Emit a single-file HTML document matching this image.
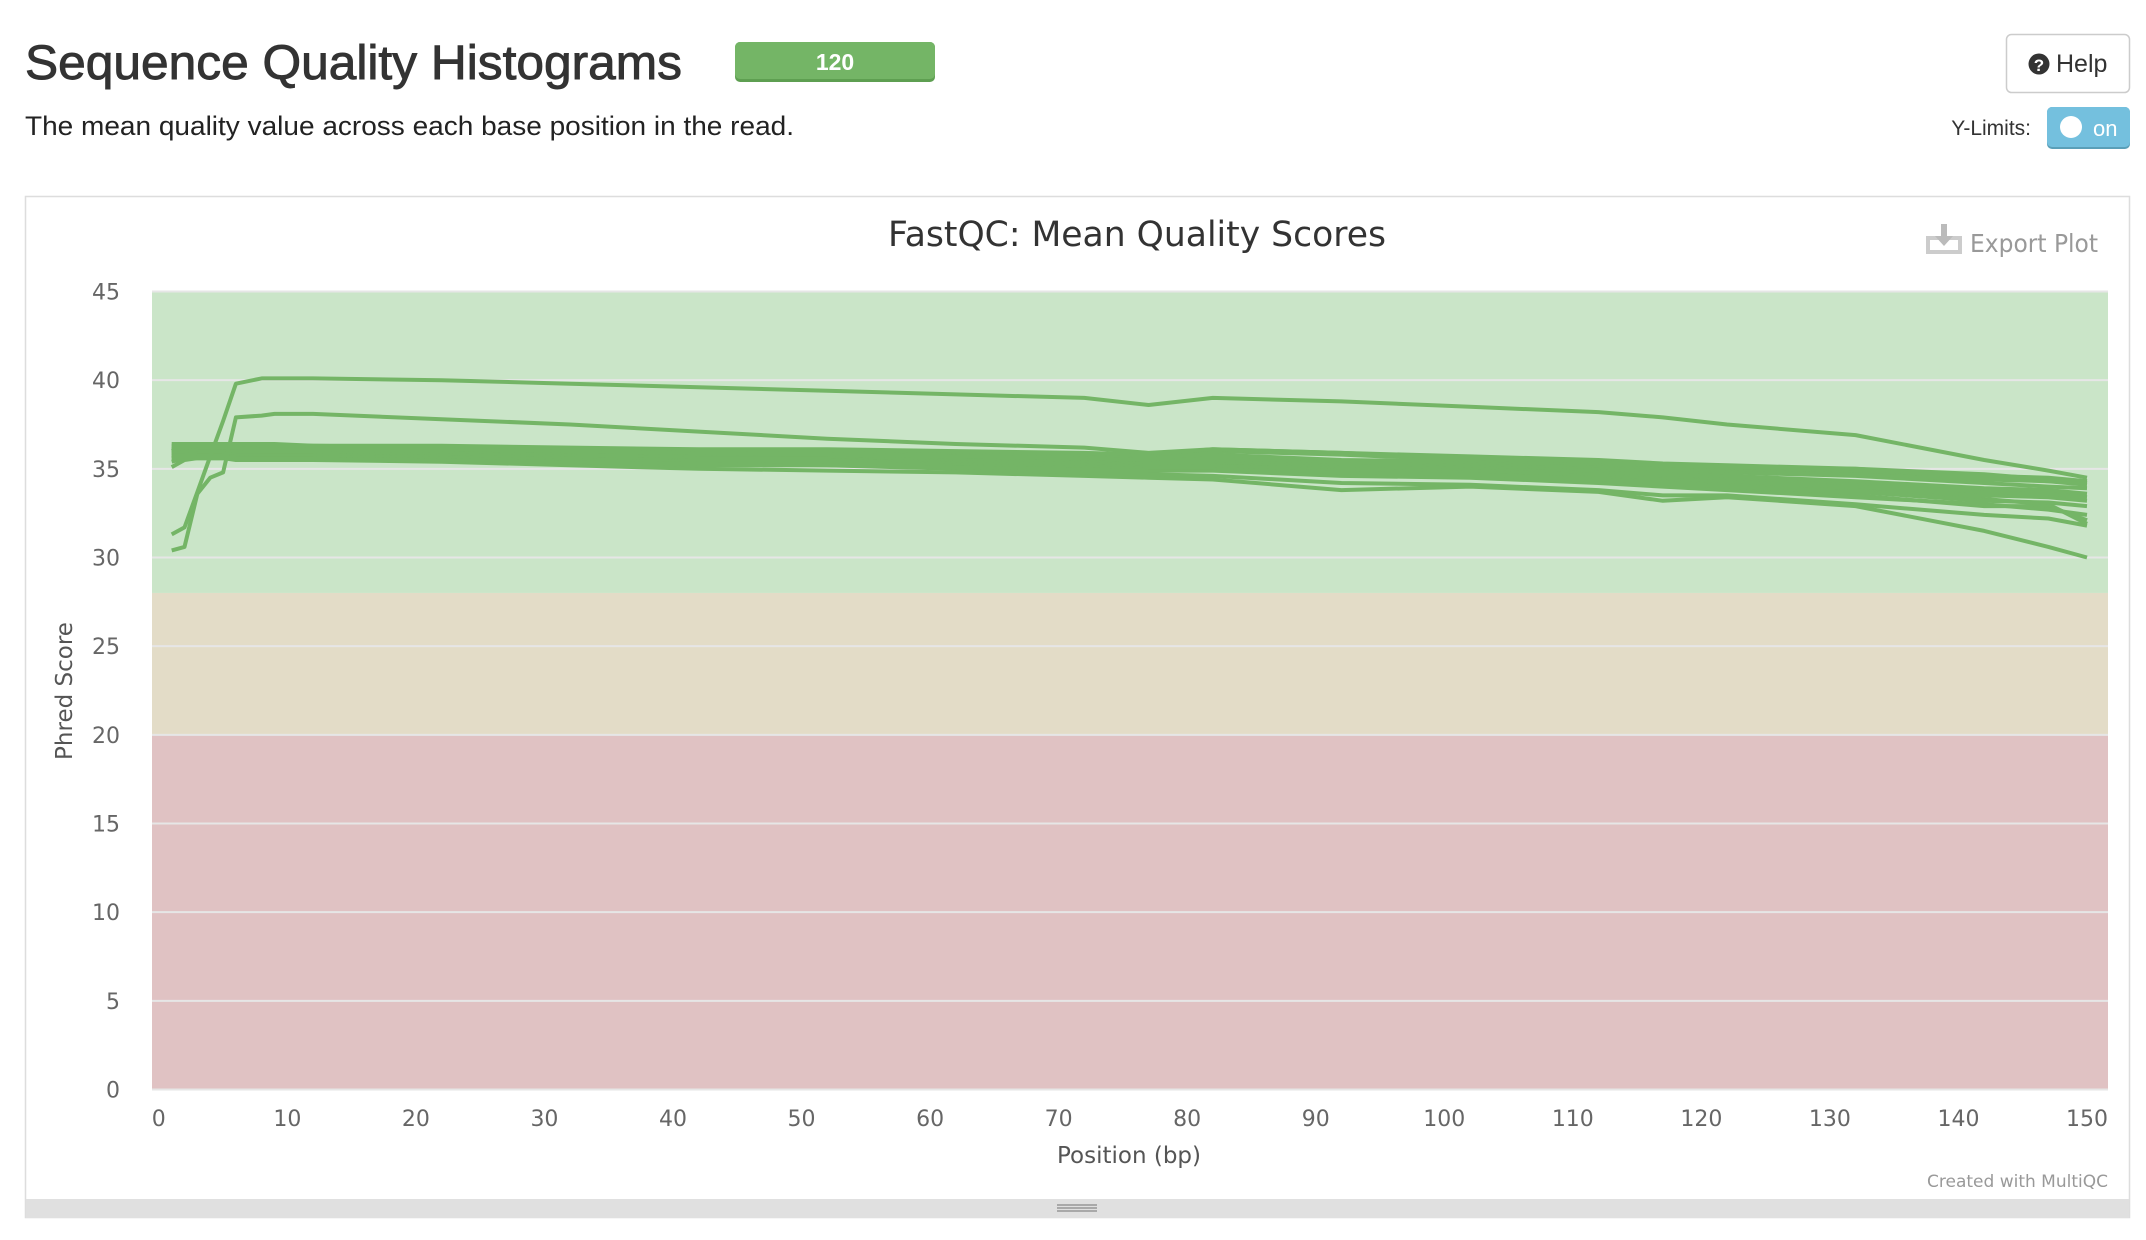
<!DOCTYPE html>
<html><head><meta charset="utf-8"><style>
html,body{margin:0;padding:0;background:#fff;}
svg{display:block;}
</style></head><body>
<svg id="page" width="2146" height="1240" viewBox="0 0 2146 1240" xmlns="http://www.w3.org/2000/svg">
  <text x="25" y="79" font-family="Liberation Sans, sans-serif" font-size="48" font-weight="500" fill="#333" stroke="#333" stroke-width="0.9" textLength="657" lengthAdjust="spacingAndGlyphs">Sequence Quality Histograms</text>
  <g>
    <rect x="735" y="42" width="200" height="40" rx="5" fill="#5e9f51"/>
    <rect x="735" y="42" width="200" height="37" rx="5" fill="#74b566"/>
    <text x="835" y="70" text-anchor="middle" font-family="Liberation Sans, sans-serif" font-size="23" font-weight="bold" fill="#fff">120</text>
  </g>
  <text x="25" y="135" font-family="Liberation Sans, sans-serif" font-size="27" fill="#222" textLength="769" lengthAdjust="spacingAndGlyphs">The mean quality value across each base position in the read.</text>
  <g>
    <rect x="2006.5" y="34.5" width="123" height="58" rx="5" fill="#fff" stroke="#ccc" stroke-width="1.5"/>
    <circle cx="2039" cy="64" r="10.5" fill="#333"/>
    <text x="2039" y="71" text-anchor="middle" font-family="Liberation Sans, sans-serif" font-size="17" font-weight="bold" fill="#fff">?</text>
    <text x="2056" y="72" font-family="Liberation Sans, sans-serif" font-size="25" fill="#333">Help</text>
  </g>
  <text x="2031" y="135" text-anchor="end" font-family="Liberation Sans, sans-serif" font-size="21" fill="#333">Y-Limits:</text>
  <g>
    <rect x="2047" y="107" width="83" height="42" rx="5" fill="#5a9fb8"/>
    <rect x="2047" y="107" width="83" height="40" rx="5" fill="#74c0de"/>
    <circle cx="2071" cy="127" r="11" fill="#fff"/>
    <text x="2093" y="136" font-family="Liberation Sans, sans-serif" font-size="22" fill="#fff">on</text>
  </g>
  <g>
    <rect x="25.5" y="196.5" width="2104" height="1021" fill="#fff" stroke="#ddd" stroke-width="1.5"/>
    <rect x="26" y="1199" width="2103" height="19" fill="#e0e0e0"/>
    <line x1="1057" y1="1205" x2="1097" y2="1205" stroke="#888" stroke-width="1.2"/>
    <line x1="1057" y1="1208" x2="1097" y2="1208" stroke="#888" stroke-width="1.2"/>
    <line x1="1057" y1="1211" x2="1097" y2="1211" stroke="#888" stroke-width="1.2"/>
  </g>
  <text x="1137" y="246" text-anchor="middle" font-family="DejaVu Sans, sans-serif" font-size="35" fill="#333" textLength="498" lengthAdjust="spacingAndGlyphs">FastQC: Mean Quality Scores</text>
  <g>
    <path d="M1928 238 h32 v14 h-32 z" fill="none" stroke="#ccc" stroke-width="4"/>
    <path d="M1941 224 h6 v12 h6 l-9 10 l-9 -10 h6 z" fill="#bbb"/>
    <text x="1970" y="252" font-family="DejaVu Sans, sans-serif" font-size="25" fill="#999" textLength="128" lengthAdjust="spacingAndGlyphs">Export Plot</text>
  </g>
  <g id="plot"></g>
  <text x="1129" y="1163" text-anchor="middle" font-family="DejaVu Sans, sans-serif" font-size="23" fill="#555">Position (bp)</text>
  <text transform="translate(72,691) rotate(-90)" text-anchor="middle" font-family="DejaVu Sans, sans-serif" font-size="23" fill="#555">Phred Score</text>
  <text x="2108" y="1187" text-anchor="end" font-family="DejaVu Sans, sans-serif" font-size="17" fill="#999">Created with MultiQC</text>
</svg>
<script>
const positions = [1,2,3,4,5,6,8,9,12,22,32,42,52,62,72,77,82,92,102,112,117,122,132,142,147,150];
const s1 = [31.3,31.7,33.7,35.7,37.7,39.8,40.1,40.1,40.1,40.0,39.8,39.6,39.4,39.2,39.0,38.6,39.0,38.8,38.5,38.2,37.9,37.5,36.9,35.5,34.9,34.5];
const s2 = [30.4,30.6,33.6,34.5,34.8,37.9,38.0,38.1,38.1,37.8,37.5,37.1,36.7,36.4,36.2,35.9,36.1,35.9,35.6,35.4,35.2,35.1,35.0,34.5,34.3,34.2];
const s3 = [35.4,35.6,35.6,35.6,35.6,35.5,35.5,35.5,35.5,35.4,35.2,35.0,34.9,34.8,34.6,34.5,34.4,33.8,34.0,33.7,33.2,33.4,32.9,31.5,30.6,30.0];
const s4 = [35.1,35.5,35.6,35.6,35.6,35.6,35.6,35.6,35.6,35.6,35.4,35.2,35.2,35.0,34.8,34.7,34.6,34.2,34.1,33.8,33.5,33.5,33.0,32.4,32.2,31.8];
const s5 = [35.6,35.7,35.8,35.8,35.8,35.8,35.7,35.7,35.7,35.7,35.5,35.4,35.4,35.2,35.1,35.0,35.0,34.7,34.6,34.3,34.1,33.9,33.5,32.9,32.9,32.1];
const s6 = [35.8,35.9,36.0,36.0,36.0,35.9,35.9,35.9,35.9,35.8,35.7,35.6,35.6,35.4,35.3,35.2,35.2,35.0,34.9,34.7,34.5,34.3,34.0,33.5,33.4,33.2];
const s7 = [36.0,36.0,36.1,36.1,36.1,36.0,36.0,36.0,36.0,35.9,35.8,35.7,35.7,35.6,35.5,35.4,35.4,35.2,35.1,34.9,34.7,34.6,34.3,33.9,33.8,33.6];
const s8 = [36.1,36.1,36.2,36.2,36.2,36.1,36.1,36.1,36.1,36.0,35.9,35.8,35.8,35.7,35.6,35.5,35.5,35.3,35.2,35.0,34.9,34.8,34.6,34.2,34.0,33.9];
const s9 = [36.2,36.2,36.3,36.3,36.3,36.2,36.2,36.2,36.2,36.1,36.0,35.9,35.9,35.8,35.7,35.6,35.6,35.4,35.3,35.1,35.0,34.9,34.7,34.4,34.3,34.1];
const s10 = [36.3,36.3,36.4,36.4,36.4,36.3,36.3,36.3,36.3,36.2,36.1,36.0,36.0,35.9,35.8,35.7,35.8,35.5,35.4,35.2,35.1,35.0,34.9,34.6,34.5,34.3];
const s11 = [36.0,36.2,36.3,36.3,36.2,36.2,36.1,36.1,36.1,36.1,36.0,35.9,35.8,35.7,35.6,35.5,36.0,35.8,35.5,35.3,35.2,35.1,34.9,34.6,34.4,34.2];
const s12 = [35.7,35.8,35.9,35.9,35.9,35.8,35.8,35.8,35.8,35.7,35.6,35.5,35.5,35.3,35.2,35.1,35.1,34.9,34.8,34.5,34.3,34.1,33.8,33.3,33.0,31.9];
const s13 = [36.1,36.2,36.2,36.2,36.2,36.1,36.0,36.0,36.0,35.9,35.8,35.7,35.7,35.5,35.4,35.3,35.4,35.1,35.0,34.8,34.6,34.5,34.2,33.7,33.6,33.4];
const s14 = [35.9,36.0,36.0,36.0,36.0,35.9,35.8,35.8,35.8,35.7,35.6,35.5,35.4,35.3,35.2,35.1,35.1,34.8,34.7,34.4,34.2,34.0,33.7,33.2,33.1,32.9];
const s15 = [35.6,35.7,35.7,35.7,35.7,35.6,35.6,35.6,35.6,35.5,35.4,35.3,35.2,35.1,35.0,34.9,34.9,34.6,34.5,34.2,34.0,33.8,33.4,33.0,32.7,32.4];
const s16 = [36.4,36.4,36.4,36.4,36.4,36.4,36.4,36.4,36.3,36.3,36.2,36.1,36.1,36.0,35.9,35.8,36.1,35.9,35.7,35.5,35.3,35.2,35.0,34.7,34.4,34.3];
const seriesList = [s3,s4,s5,s15,s12,s14,s6,s13,s7,s8,s9,s10,s11,s16,s2,s1];
const yTicks = [0,5,10,15,20,25,30,35,40,45];
const xTicks = [0,10,20,30,40,50,60,70,80,90,100,110,120,130,140,150];
const bandLimits = [0,20,28,45];
const bandColors = ['#e0c2c3','#e3dcc7','#cae5c8'];

const NS = 'http://www.w3.org/2000/svg';
const X0 = 158.8, X1 = 2087, XMIN = 0, XMAX = 150;
const PL = 152, PR = 2108;
const Y0 = 1089.5, Y1 = 291.5, YMIN = 0, YMAX = 45;
function xs(v){ return X0 + (v - XMIN) / (XMAX - XMIN) * (X1 - X0); }
function ys(v){ return Y0 - (v - YMIN) / (YMAX - YMIN) * (Y0 - Y1); }
const plot = document.getElementById('plot');
function mk(tag, attrs){ const e = document.createElementNS(NS, tag); for (const k in attrs) e.setAttribute(k, attrs[k]); plot.appendChild(e); return e; }

for (let i = 0; i < bandColors.length; i++) {
  const r = mk('rect', {x: PL, y: ys(bandLimits[i+1]), width: PR - PL, height: ys(bandLimits[i]) - ys(bandLimits[i+1]), fill: bandColors[i]});
  
  
}
for (const t of yTicks) {
  const g = mk('line', {x1: PL, x2: PR, y1: ys(t), y2: ys(t), stroke: '#e6e6e6', 'stroke-width': 2});
  
  
  const lb = mk('text', {x: 120, y: ys(t) + 8, 'text-anchor': 'end', 'font-family': 'DejaVu Sans, sans-serif', 'font-size': 22, fill: '#666'});
  lb.textContent = t;
  
  
}
for (const t of xTicks) {
  const lb = mk('text', {x: xs(t), y: 1126, 'text-anchor': 'middle', 'font-family': 'DejaVu Sans, sans-serif', 'font-size': 22, fill: '#666'});
  lb.textContent = t;
  
  
}
for (const s of seriesList) {
  let d = '';
  for (let i = 0; i < positions.length; i++) d += (i ? 'L' : 'M') + xs(positions[i]).toFixed(1) + ' ' + ys(s[i]).toFixed(1);
  const p = mk('path', {d: d, fill: 'none', stroke: '#74b566', 'stroke-width': 4, 'stroke-linejoin': 'round'});
  
  
}
</script>
</body></html>
